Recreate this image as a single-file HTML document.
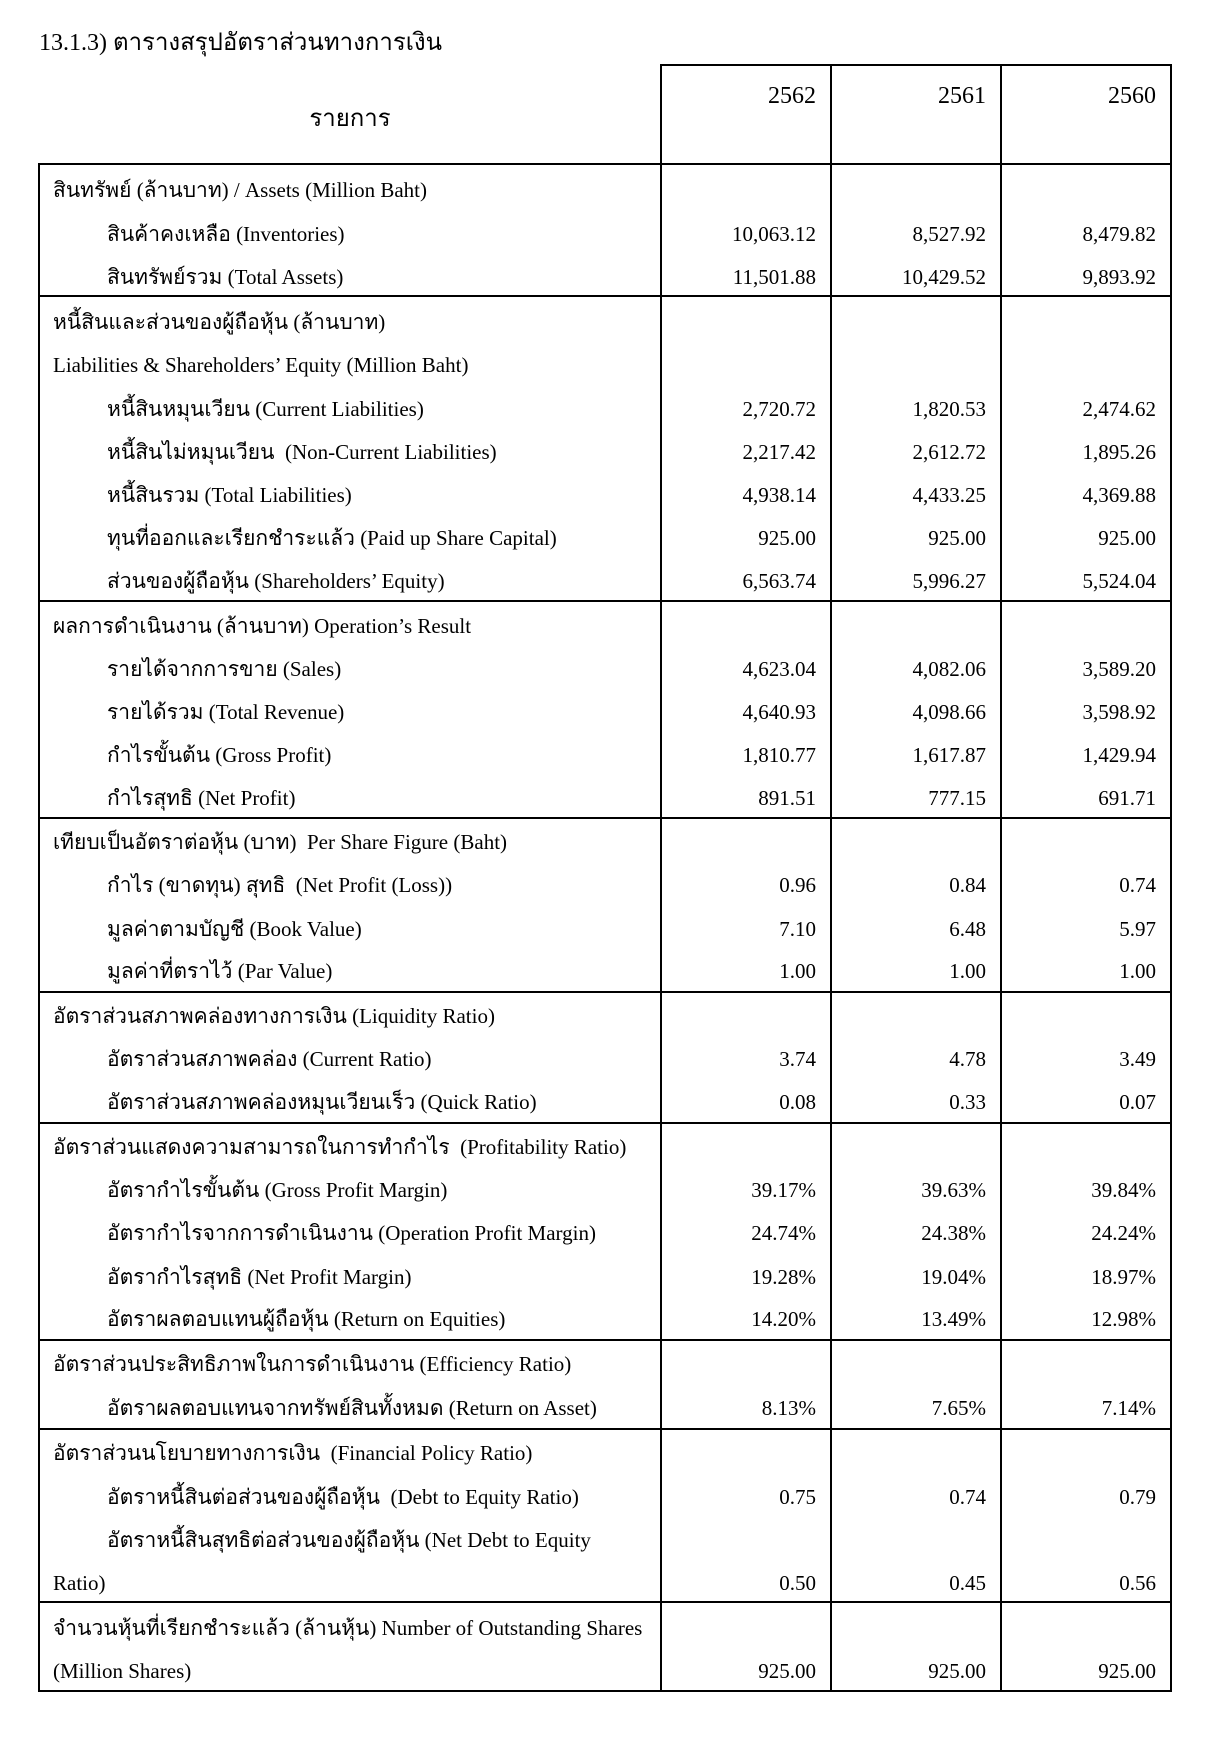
<!DOCTYPE html>
<html>
<head>
<meta charset="utf-8">
<style>
  html,body{margin:0;padding:0;background:#fff;}
  body{width:1207px;height:1755px;position:relative;overflow:hidden;
       font-family:"Liberation Serif","Norasi","Tlwg Typo","Loma","Garuda","Noto Serif Thai","Noto Sans Thai","DejaVu Serif",serif;color:#000;}
  .t{position:absolute;height:44px;line-height:44px;white-space:nowrap;font-size:21px;margin-top:1px;}
  .h{left:53px;}
  .i{left:107px;}
  .v1,.v2,.v3{text-align:right;}
  .v1{right:391px;}
  .v2{right:221px;}
  .v3{right:51px;}
  .hl{position:absolute;height:2px;background:#000;left:38px;width:1134px;}
  .vl{position:absolute;width:2px;background:#000;}
</style>
</head>
<body>

<!-- title -->
<div class="t" style="left:39px;top:20px;font-size:24px;">13.1.3) ตารางสรุปอัตราส่วนทางการเงิน</div>

<!-- header -->
<div class="t" style="left:39px;width:622px;text-align:center;top:96px;font-size:24px;">รายการ</div>
<div class="t v1" style="top:73px;font-size:24px;">2562</div>
<div class="t v2" style="top:73px;font-size:24px;">2561</div>
<div class="t v3" style="top:73px;font-size:24px;">2560</div>

<!-- borders -->
<div class="hl" style="top:64px;left:660px;width:512px;"></div>
<div class="hl" style="top:163px;"></div>
<div class="hl" style="top:295px;"></div>
<div class="hl" style="top:600px;"></div>
<div class="hl" style="top:817px;"></div>
<div class="hl" style="top:991px;"></div>
<div class="hl" style="top:1122px;"></div>
<div class="hl" style="top:1339px;"></div>
<div class="hl" style="top:1428px;"></div>
<div class="hl" style="top:1601px;"></div>
<div class="hl" style="top:1690px;"></div>

<div class="vl" style="left:38px;top:163px;height:1529px;"></div>
<div class="vl" style="left:660px;top:64px;height:1628px;"></div>
<div class="vl" style="left:830px;top:64px;height:1628px;"></div>
<div class="vl" style="left:1000px;top:64px;height:1628px;"></div>
<div class="vl" style="left:1170px;top:64px;height:1628px;"></div>

<!-- Group 1 -->
<div class="t h" style="top:167px;">สินทรัพย์ (ล้านบาท) / Assets (Million Baht)</div>
<div class="t i" style="top:211px;">สินค้าคงเหลือ (Inventories)</div>
<div class="t v1" style="top:211px;">10,063.12</div>
<div class="t v2" style="top:211px;">8,527.92</div>
<div class="t v3" style="top:211px;">8,479.82</div>
<div class="t i" style="top:254px;">สินทรัพย์รวม (Total Assets)</div>
<div class="t v1" style="top:254px;">11,501.88</div>
<div class="t v2" style="top:254px;">10,429.52</div>
<div class="t v3" style="top:254px;">9,893.92</div>

<!-- Group 2 -->
<div class="t h" style="top:299px;">หนี้สินและส่วนของผู้ถือหุ้น (ล้านบาท)</div>
<div class="t h" style="top:342px;">Liabilities &amp; Shareholders’ Equity (Million Baht)</div>
<div class="t i" style="top:386px;">หนี้สินหมุนเวียน (Current Liabilities)</div>
<div class="t v1" style="top:386px;">2,720.72</div>
<div class="t v2" style="top:386px;">1,820.53</div>
<div class="t v3" style="top:386px;">2,474.62</div>
<div class="t i" style="top:429px;">หนี้สินไม่หมุนเวียน&nbsp; (Non-Current Liabilities)</div>
<div class="t v1" style="top:429px;">2,217.42</div>
<div class="t v2" style="top:429px;">2,612.72</div>
<div class="t v3" style="top:429px;">1,895.26</div>
<div class="t i" style="top:472px;">หนี้สินรวม (Total Liabilities)</div>
<div class="t v1" style="top:472px;">4,938.14</div>
<div class="t v2" style="top:472px;">4,433.25</div>
<div class="t v3" style="top:472px;">4,369.88</div>
<div class="t i" style="top:515px;">ทุนที่ออกและเรียกชำระแล้ว (Paid up Share Capital)</div>
<div class="t v1" style="top:515px;">925.00</div>
<div class="t v2" style="top:515px;">925.00</div>
<div class="t v3" style="top:515px;">925.00</div>
<div class="t i" style="top:558px;">ส่วนของผู้ถือหุ้น (Shareholders’ Equity)</div>
<div class="t v1" style="top:558px;">6,563.74</div>
<div class="t v2" style="top:558px;">5,996.27</div>
<div class="t v3" style="top:558px;">5,524.04</div>

<!-- Group 3 -->
<div class="t h" style="top:603px;">ผลการดำเนินงาน (ล้านบาท) Operation’s Result</div>
<div class="t i" style="top:646px;">รายได้จากการขาย (Sales)</div>
<div class="t v1" style="top:646px;">4,623.04</div>
<div class="t v2" style="top:646px;">4,082.06</div>
<div class="t v3" style="top:646px;">3,589.20</div>
<div class="t i" style="top:689px;">รายได้รวม (Total Revenue)</div>
<div class="t v1" style="top:689px;">4,640.93</div>
<div class="t v2" style="top:689px;">4,098.66</div>
<div class="t v3" style="top:689px;">3,598.92</div>
<div class="t i" style="top:732px;">กำไรขั้นต้น (Gross Profit)</div>
<div class="t v1" style="top:732px;">1,810.77</div>
<div class="t v2" style="top:732px;">1,617.87</div>
<div class="t v3" style="top:732px;">1,429.94</div>
<div class="t i" style="top:775px;">กำไรสุทธิ (Net Profit)</div>
<div class="t v1" style="top:775px;">891.51</div>
<div class="t v2" style="top:775px;">777.15</div>
<div class="t v3" style="top:775px;">691.71</div>

<!-- Group 4 -->
<div class="t h" style="top:819px;">เทียบเป็นอัตราต่อหุ้น (บาท)&nbsp; Per Share Figure (Baht)</div>
<div class="t i" style="top:862px;">กำไร (ขาดทุน) สุทธิ&nbsp; (Net Profit (Loss))</div>
<div class="t v1" style="top:862px;">0.96</div>
<div class="t v2" style="top:862px;">0.84</div>
<div class="t v3" style="top:862px;">0.74</div>
<div class="t i" style="top:906px;">มูลค่าตามบัญชี (Book Value)</div>
<div class="t v1" style="top:906px;">7.10</div>
<div class="t v2" style="top:906px;">6.48</div>
<div class="t v3" style="top:906px;">5.97</div>
<div class="t i" style="top:948px;">มูลค่าที่ตราไว้ (Par Value)</div>
<div class="t v1" style="top:948px;">1.00</div>
<div class="t v2" style="top:948px;">1.00</div>
<div class="t v3" style="top:948px;">1.00</div>

<!-- Group 5 -->
<div class="t h" style="top:993px;">อัตราส่วนสภาพคล่องทางการเงิน (Liquidity Ratio)</div>
<div class="t i" style="top:1036px;">อัตราส่วนสภาพคล่อง (Current Ratio)</div>
<div class="t v1" style="top:1036px;">3.74</div>
<div class="t v2" style="top:1036px;">4.78</div>
<div class="t v3" style="top:1036px;">3.49</div>
<div class="t i" style="top:1079px;">อัตราส่วนสภาพคล่องหมุนเวียนเร็ว (Quick Ratio)</div>
<div class="t v1" style="top:1079px;">0.08</div>
<div class="t v2" style="top:1079px;">0.33</div>
<div class="t v3" style="top:1079px;">0.07</div>

<!-- Group 6 -->
<div class="t h" style="top:1124px;">อัตราส่วนแสดงความสามารถในการทำกำไร&nbsp; (Profitability Ratio)</div>
<div class="t i" style="top:1167px;">อัตรากำไรขั้นต้น (Gross Profit Margin)</div>
<div class="t v1" style="top:1167px;">39.17%</div>
<div class="t v2" style="top:1167px;">39.63%</div>
<div class="t v3" style="top:1167px;">39.84%</div>
<div class="t i" style="top:1210px;">อัตรากำไรจากการดำเนินงาน (Operation Profit Margin)</div>
<div class="t v1" style="top:1210px;">24.74%</div>
<div class="t v2" style="top:1210px;">24.38%</div>
<div class="t v3" style="top:1210px;">24.24%</div>
<div class="t i" style="top:1254px;">อัตรากำไรสุทธิ (Net Profit Margin)</div>
<div class="t v1" style="top:1254px;">19.28%</div>
<div class="t v2" style="top:1254px;">19.04%</div>
<div class="t v3" style="top:1254px;">18.97%</div>
<div class="t i" style="top:1296px;">อัตราผลตอบแทนผู้ถือหุ้น (Return on Equities)</div>
<div class="t v1" style="top:1296px;">14.20%</div>
<div class="t v2" style="top:1296px;">13.49%</div>
<div class="t v3" style="top:1296px;">12.98%</div>

<!-- Group 7 -->
<div class="t h" style="top:1341px;">อัตราส่วนประสิทธิภาพในการดำเนินงาน (Efficiency Ratio)</div>
<div class="t i" style="top:1385px;">อัตราผลตอบแทนจากทรัพย์สินทั้งหมด (Return on Asset)</div>
<div class="t v1" style="top:1385px;">8.13%</div>
<div class="t v2" style="top:1385px;">7.65%</div>
<div class="t v3" style="top:1385px;">7.14%</div>

<!-- Group 8 -->
<div class="t h" style="top:1430px;">อัตราส่วนนโยบายทางการเงิน&nbsp; (Financial Policy Ratio)</div>
<div class="t i" style="top:1474px;">อัตราหนี้สินต่อส่วนของผู้ถือหุ้น&nbsp; (Debt to Equity Ratio)</div>
<div class="t v1" style="top:1474px;">0.75</div>
<div class="t v2" style="top:1474px;">0.74</div>
<div class="t v3" style="top:1474px;">0.79</div>
<div class="t i" style="top:1517px;">อัตราหนี้สินสุทธิต่อส่วนของผู้ถือหุ้น (Net Debt to Equity</div>
<div class="t h" style="top:1560px;">Ratio)</div>
<div class="t v1" style="top:1560px;">0.50</div>
<div class="t v2" style="top:1560px;">0.45</div>
<div class="t v3" style="top:1560px;">0.56</div>

<!-- Group 9 -->
<div class="t h" style="top:1605px;">จำนวนหุ้นที่เรียกชำระแล้ว (ล้านหุ้น) Number of Outstanding Shares</div>
<div class="t h" style="top:1648px;">(Million Shares)</div>
<div class="t v1" style="top:1648px;">925.00</div>
<div class="t v2" style="top:1648px;">925.00</div>
<div class="t v3" style="top:1648px;">925.00</div>

</body>
</html>
